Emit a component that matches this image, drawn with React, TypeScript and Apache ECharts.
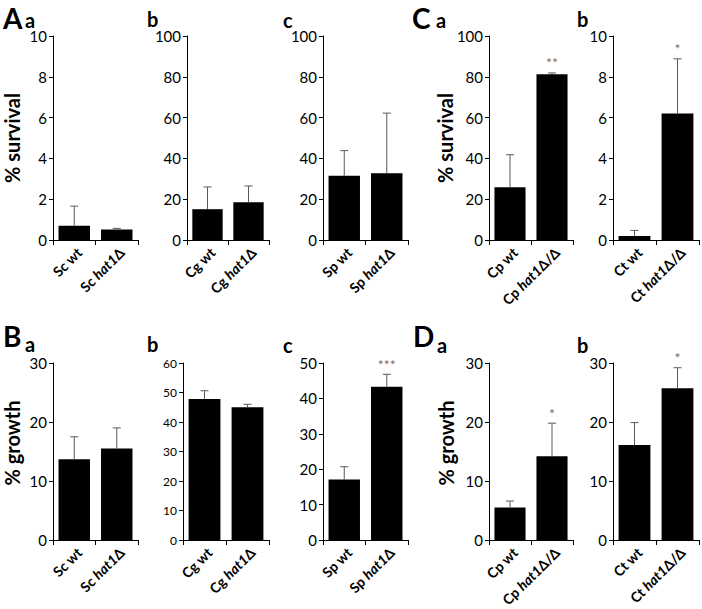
import React, { useEffect, useRef } from "react";
import * as echarts from "echarts";

// ---------- DATA ----------
// Survival panels (A a–c, C a–b)
const survScCats = ["Sc wt", "Sc hat1Δ"];
const survScVals = [0.7, 0.52];
const survScErr = [0.96, 0.05];
const survScSig = ["", ""];

const survCgCats = ["Cg wt", "Cg hat1Δ"];
const survCgVals = [15.1, 18.5];
const survCgErr = [10.9, 8.0];
const survCgSig = ["", ""];

const survSpCats = ["Sp wt", "Sp hat1Δ"];
const survSpVals = [31.5, 32.7];
const survSpErr = [12.3, 29.5];
const survSpSig = ["", ""];

const survCpCats = ["Cp wt", "Cp hat1Δ/Δ"];
const survCpVals = [25.8, 81.3];
const survCpErr = [16.0, 0.6];
const survCpSig = ["", "**"];

const survCtCats = ["Ct wt", "Ct hat1Δ/Δ"];
const survCtVals = [0.2, 6.2];
const survCtErr = [0.27, 2.68];
const survCtSig = ["", "*"];

// Growth panels (B a–c, D a–b)
const growScCats = ["Sc wt", "Sc hat1Δ"];
const growScVals = [13.7, 15.5];
const growScErr = [3.8, 3.5];
const growScSig = ["", ""];

const growCgCats = ["Cg wt", "Cg hat1Δ"];
const growCgVals = [47.8, 45.0];
const growCgErr = [2.8, 1.0];
const growCgSig = ["", ""];

const growSpCats = ["Sp wt", "Sp hat1Δ"];
const growSpVals = [17.1, 43.3];
const growSpErr = [3.6, 3.5];
const growSpSig = ["", "***"];

const growCpCats = ["Cp wt", "Cp hat1Δ/Δ"];
const growCpVals = [5.5, 14.2];
const growCpErr = [1.1, 5.6];
const growCpSig = ["", "*"];

const growCtCats = ["Ct wt", "Ct hat1Δ/Δ"];
const growCtVals = [16.1, 25.7];
const growCtErr = [3.8, 3.5];
const growCtSig = ["", "*"];

// y-axis ranges [max, interval]
const axisSurvSc = [10, 2];
const axisSurvCg = [100, 20];
const axisSurvSp = [100, 20];
const axisSurvCp = [100, 20];
const axisSurvCt = [10, 2];
const axisGrowSc = [30, 10];
const axisGrowCg = [60, 10];
const axisGrowSp = [50, 10];
const axisGrowCp = [30, 10];
const axisGrowCt = [30, 10];

// ---------- LAYOUT ----------
const FONT = "Lato";
const TOP1 = 36, H1 = 204;
const TOP2 = 363, H2 = 177;

type Panel = {
  cats: string[]; vals: number[]; err: number[]; sig: string[];
  axis: number[]; grid: number[]; tickFont: number;
};

const panels: Panel[] = [
  { cats: survScCats, vals: survScVals, err: survScErr, sig: survScSig, axis: axisSurvSc, grid: [53, TOP1, 85, H1], tickFont: 15 },
  { cats: survCgCats, vals: survCgVals, err: survCgErr, sig: survCgSig, axis: axisSurvCg, grid: [187, TOP1, 82, H1], tickFont: 15 },
  { cats: survSpCats, vals: survSpVals, err: survSpErr, sig: survSpSig, axis: axisSurvSp, grid: [323, TOP1, 85, H1], tickFont: 15 },
  { cats: survCpCats, vals: survCpVals, err: survCpErr, sig: survCpSig, axis: axisSurvCp, grid: [489, TOP1, 84, H1], tickFont: 15 },
  { cats: survCtCats, vals: survCtVals, err: survCtErr, sig: survCtSig, axis: axisSurvCt, grid: [613, TOP1, 86, H1], tickFont: 15 },
  { cats: growScCats, vals: growScVals, err: growScErr, sig: growScSig, axis: axisGrowSc, grid: [53, TOP2, 85, H2], tickFont: 15 },
  { cats: growCgCats, vals: growCgVals, err: growCgErr, sig: growCgSig, axis: axisGrowCg, grid: [183, TOP2, 86, H2], tickFont: 12 },
  { cats: growSpCats, vals: growSpVals, err: growSpErr, sig: growSpSig, axis: axisGrowSp, grid: [323, TOP2, 85, H2], tickFont: 15 },
  { cats: growCpCats, vals: growCpVals, err: growCpErr, sig: growCpSig, axis: axisGrowCp, grid: [489, TOP2, 84, H2], tickFont: 15 },
  { cats: growCtCats, vals: growCtVals, err: growCtErr, sig: growCtSig, axis: axisGrowCt, grid: [613, TOP2, 86, H2], tickFont: 15 },
];

const bigLetters = [
  { t: "A", x: 3, y: 18 },
  { t: "C", x: 412, y: 18 },
  { t: "B", x: 3, y: 336 },
  { t: "D", x: 413, y: 336 },
];
const smallLetters = [
  { t: "a", x: 25, y: 20 },
  { t: "b", x: 147, y: 19 },
  { t: "c", x: 283, y: 20 },
  { t: "a", x: 436, y: 20 },
  { t: "b", x: 577, y: 19 },
  { t: "a", x: 25, y: 344 },
  { t: "b", x: 147, y: 344 },
  { t: "c", x: 283, y: 345 },
  { t: "a", x: 437, y: 345 },
  { t: "b", x: 577, y: 345 },
];
const axisNames = [
  { t: "% survival", x: 12, y: 138 },
  { t: "% survival", x: 445, y: 138 },
  { t: "% growth", x: 12, y: 443 },
  { t: "% growth", x: 446, y: 443 },
];

function buildOption() {
  const grid: any[] = [];
  const xAxis: any[] = [];
  const yAxis: any[] = [];
  const series: any[] = [];
  panels.forEach((p, i) => {
    grid.push({ left: p.grid[0], top: p.grid[1], width: p.grid[2], height: p.grid[3], outerBoundsMode: "none", containLabel: false });
    xAxis.push({
      type: "category", gridIndex: i, data: p.cats,
      axisLine: { lineStyle: { color: "#000", width: 1 } },
      axisTick: { show: true, length: 5, lineStyle: { color: "#000" } },
      axisLabel: {
        interval: 0, rotate: 45, margin: 5, color: "#000",
        fontFamily: FONT, fontSize: 14, fontWeight: "bold",
        verticalAlign: "top",
        formatter: (v: string) => v.replace("hat1", "{i|hat1}"),
        rich: { i: { fontStyle: "italic", fontWeight: "bold", fontFamily: FONT, fontSize: 14, color: "#000" } },
      },
    });
    yAxis.push({
      type: "value", gridIndex: i, min: 0, max: p.axis[0], interval: p.axis[1],
      splitLine: { show: false },
      axisLine: { show: true, lineStyle: { color: "#000", width: 1 } },
      axisTick: { show: true, length: 4, lineStyle: { color: "#000" } },
      axisLabel: { color: "#000", fontFamily: FONT, fontSize: p.tickFont, margin: 6 },
    });
    series.push({
      type: "bar", xAxisIndex: i, yAxisIndex: i, data: p.vals, barWidth: "74%",
      itemStyle: { color: "#000" }, silent: true,
    });
    series.push({
      type: "custom", xAxisIndex: i, yAxisIndex: i, z: 5, silent: true, clip: false,
      data: p.vals.map((v, j) => [j, v + p.err[j]]),
      renderItem: (params: any, api: any) => {
        const j = params.dataIndex;
        const base = api.coord([j, p.vals[j]]);
        const top = api.coord([j, api.value(1)]);
        const children: any[] = [
          { type: "line", shape: { x1: base[0], y1: base[1], x2: top[0], y2: top[1] }, style: { stroke: "#5a5a5a", lineWidth: 1 } },
          { type: "line", shape: { x1: top[0] - 4, y1: top[1], x2: top[0] + 4, y2: top[1] }, style: { stroke: "#5a5a5a", lineWidth: 1 } },
        ];
        if (p.sig[j]) {
          children.push({
            type: "text", x: top[0], y: top[1] - 3,
            style: { text: p.sig[j], fill: "#707070", font: `14px ${FONT}`, align: "center", verticalAlign: "bottom" },
          });
        }
        return { type: "group", children };
      },
    });
  });

  const graphic: any[] = [];
  bigLetters.forEach((l) => graphic.push({
    type: "text", x: l.x, y: l.y,
    style: { text: l.t, fill: "#000", font: `bold 28px ${FONT}`, align: "left", verticalAlign: "middle" },
  }));
  smallLetters.forEach((l) => graphic.push({
    type: "text", x: l.x, y: l.y,
    style: { text: l.t, fill: "#000", font: `bold 20px ${FONT}`, align: "left", verticalAlign: "middle" },
  }));
  axisNames.forEach((l) => graphic.push({
    type: "text", x: l.x, y: l.y, rotation: Math.PI / 2,
    style: { text: l.t, fill: "#000", font: `bold 20px ${FONT}`, align: "center", verticalAlign: "middle" },
  }));

  return { animation: false, backgroundColor: "#fff", grid, xAxis, yAxis, series, graphic };
}

export default function App() {
  const ref = useRef<HTMLDivElement>(null);
  useEffect(() => {
    document.body.style.margin = "0";
    if (!ref.current) return;
    const chart = echarts.init(ref.current, undefined, { renderer: "svg" });
    chart.setOption(buildOption() as any);
    return () => chart.dispose();
  }, []);
  return <div ref={ref} style={{ width: 702, height: 609 }} />;
}
